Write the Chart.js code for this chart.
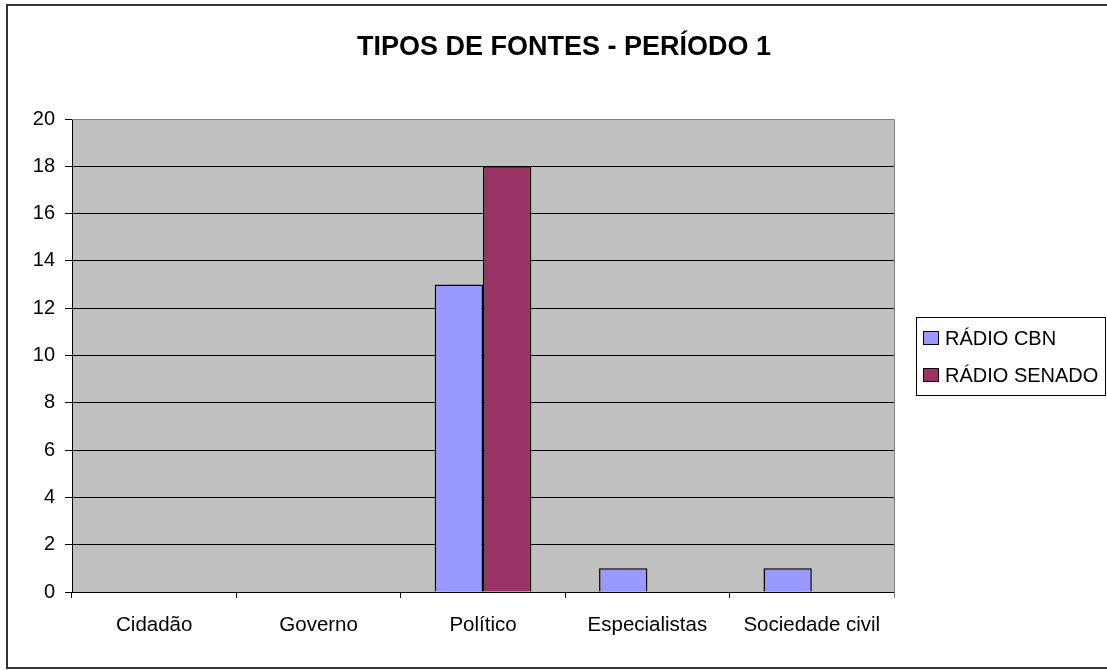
<!DOCTYPE html>
<html>
<head>
<meta charset="utf-8">
<script src="https://cdn.jsdelivr.net/npm/chart.js@4.4.0/dist/chart.umd.min.js"></script>
<style>
  html, body { margin: 0; padding: 0; background: #fff; }
  #wrap { width: 1107px; height: 670px; }
</style>
</head>
<body>
<div id="wrap"><canvas id="c" width="1107" height="670"></canvas></div>
<script>
const chartTitle = 'TIPOS DE FONTES - PERÍODO 1';
const categories = ['Cidadão', 'Governo', 'Político', 'Especialistas', 'Sociedade civil'];
const seriesNames = ['RÁDIO CBN', 'RÁDIO SENADO'];
const radioCBN = [0, 0, 13, 1, 1];
const radioSenado = [0, 0, 18, 0, 0];
const yTicks = [0, 2, 4, 6, 8, 10, 12, 14, 16, 18, 20];
const seriesColors = ['#9999FF', '#993366'];

const FONT = '"Liberation Sans", Arial, sans-serif';

const decor = {
  id: 'decor',
  beforeDraw(chart) {
    const ctx = chart.ctx;
    const a = chart.chartArea;
    ctx.save();
    ctx.fillStyle = '#fff';
    ctx.fillRect(0, 0, chart.width, chart.height);
    ctx.fillStyle = '#C0C0C0';
    ctx.fillRect(a.left, a.top, a.right - a.left, a.bottom - a.top);
    ctx.strokeStyle = '#333';
    ctx.lineWidth = 2;
    ctx.strokeRect(7, 5, 1108, 663);
    ctx.restore();
  },
  afterDatasetsDraw(chart) {
    const ctx = chart.ctx;
    const a = chart.chartArea;
    ctx.save();
    ctx.strokeStyle = '#808080';
    ctx.lineWidth = 1;
    ctx.beginPath();
    ctx.moveTo(a.left, a.top + 0.5);
    ctx.lineTo(a.right + 0.5, a.top + 0.5);
    ctx.lineTo(a.right + 0.5, a.bottom + 6);
    ctx.stroke();
    ctx.restore();
  },
  afterDraw(chart) {
    const ctx = chart.ctx;
    ctx.save();
    ctx.fillStyle = '#000';
    ctx.font = 'bold 27px ' + FONT;
    ctx.textAlign = 'center';
    ctx.textBaseline = 'alphabetic';
    ctx.fillText(chartTitle, 564, 55);
    ctx.strokeStyle = '#000';
    ctx.lineWidth = 1;
    ctx.strokeRect(916.5, 317.5, 189, 78);
    ctx.font = '20px ' + FONT;
    ctx.textAlign = 'left';
    chart.data.datasets.forEach((ds, i) => {
      const sy = 331 + i * 37;
      ctx.fillStyle = ds.backgroundColor;
      ctx.fillRect(923, sy, 15, 13);
      ctx.strokeStyle = '#000';
      ctx.strokeRect(923.5, sy + 0.5, 15, 13);
      ctx.fillStyle = '#000';
      ctx.fillText(ds.label, 945, sy + 14);
    });
    ctx.restore();
  }
};

new Chart(document.getElementById('c'), {
  type: 'bar',
  data: {
    labels: categories,
    datasets: [
      { label: seriesNames[0], data: radioCBN, backgroundColor: seriesColors[0], borderColor: '#000', borderWidth: 1.5 },
      { label: seriesNames[1], data: radioSenado, backgroundColor: seriesColors[1], borderColor: '#000', borderWidth: 1.5 }
    ]
  },
  options: {
    responsive: false,
    animation: false,
    layout: { padding: { top: 119, left: 0, right: 213, bottom: 28 } },
    datasets: { bar: { categoryPercentage: 0.588, barPercentage: 1.0 } },
    plugins: {
      legend: { display: false },
      title: { display: false },
      tooltip: { enabled: false }
    },
    scales: {
      x: {
        offset: true,
        grid: { offset: true, drawOnChartArea: false, drawTicks: true, tickLength: 6, tickColor: '#000' },
        border: { color: '#000', width: 1 },
        ticks: { color: '#000', font: { family: FONT, size: 20.5 }, padding: 15, maxRotation: 0 },
        afterFit(s) { s.height = 50; }
      },
      y: {
        min: 0, max: 20,
        afterBuildTicks(s) { s.ticks = yTicks.map(v => ({ value: v })); },
        grid: {
          color: ctx => (ctx.tick && ctx.tick.value === 20) ? '#808080' : '#000',
          lineWidth: 1, tickLength: 7, tickColor: '#000'
        },
        border: { color: '#000', width: 1 },
        ticks: { color: '#000', font: { family: FONT, size: 20 }, padding: 10 },
        afterFit(s) { s.width = 72; }
      }
    }
  },
  plugins: [decor]
});
</script>
</body>
</html>
